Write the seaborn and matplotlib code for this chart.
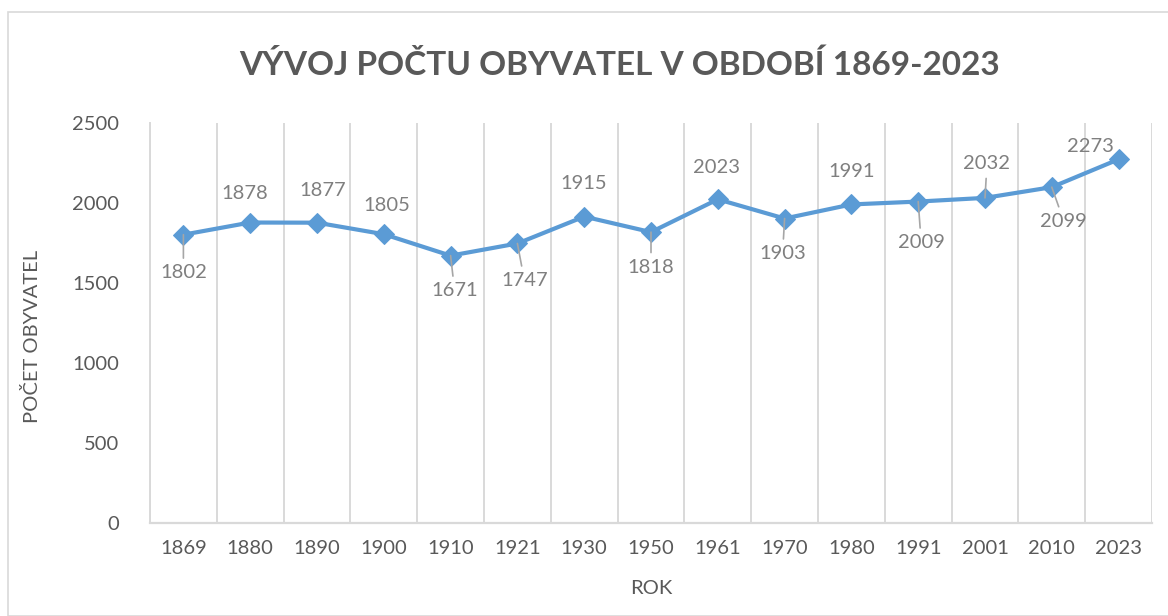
import matplotlib
matplotlib.use("Agg")
import matplotlib.pyplot as plt
import matplotlib.patches as mpatches
import numpy as np
import seaborn as sns

# data
years = ["1869", "1880", "1890", "1900", "1910", "1921", "1930", "1950",
         "1961", "1970", "1980", "1991", "2001", "2010", "2023"]
population = [1802, 1878, 1877, 1805, 1671, 1747, 1915, 1818,
              2023, 1903, 1991, 2009, 2032, 2099, 2273]
y_ticks = [0, 500, 1000, 1500, 2000, 2500]

# label placement (pixels from marker) and whether a leader line is drawn
label_offsets = [(0, -38), (-5, 29), (6, 32), (3, 29), (4, -35), (7, -37),
                 (-1, 33), (0, -35), (-1, 32), (-2, -35), (0, 33), (3, -41),
                 (2, 34), (12, -34), (-28, 13)]
leaders = [True, False, False, False, True, True, False, True, False, True,
           False, True, True, True, False]

sns.set_style("white")
plt.rcParams["font.family"] = ["Lato", "DejaVu Sans"]

LINE = "#5B9BD5"
GRID = "#D9D9D9"
TEXT = "#595959"
LABEL = "#7F7F7F"

fig = plt.figure(figsize=(11.68, 6.16), dpi=100)
ax = fig.add_axes([150 / 1168, 93 / 616, 1002 / 1168, 400 / 616])

# outer chart border
fig.patches.append(mpatches.Rectangle((8 / 1168, 0), 1.0, 604 / 616, transform=fig.transFigure,
                                      fill=False, edgecolor=GRID, linewidth=1.2))

x = np.arange(len(years))
sns.lineplot(x=x, y=population, ax=ax, color=LINE, linewidth=3.0,
             marker="D", markersize=10, markeredgecolor=LINE, markerfacecolor=LINE)

ax.set_xlim(-0.5, len(years) - 0.5)
ax.set_ylim(0, 2500)
ax.set_yticks(y_ticks)
ax.set_xticks(x)
ax.set_xticklabels(years)
ax.set_xticks(np.arange(-0.5, len(years)), minor=True)
ax.grid(which="minor", axis="x", color=GRID, linewidth=1.4)
ax.grid(which="major", visible=False)
ax.tick_params(which="both", length=0)
ax.tick_params(axis="y", labelsize=14.5, labelcolor=TEXT, pad=22)
ax.tick_params(axis="x", labelsize=14.5, labelcolor=TEXT, pad=12)

for side in ["top", "right"]:
    ax.spines[side].set_visible(False)
ax.spines["left"].set_color(GRID)
ax.spines["left"].set_linewidth(1.4)
ax.spines["bottom"].set_color(GRID)
ax.spines["bottom"].set_linewidth(1.6)

for xi, val, (dx, dy), lead in zip(x, population, label_offsets, leaders):
    props = dict(arrowstyle="-", color="#A6A6A6", linewidth=1.2,
                 shrinkA=2, shrinkB=0) if lead else None
    ax.annotate(str(val), xy=(xi, val), xytext=(dx, dy), textcoords="offset pixels",
                ha="center", va="center", fontsize=14.5, color=LABEL,
                arrowprops=props)

fig.text(620 / 1168, 1 - 65 / 616, "VÝVOJ POČTU OBYVATEL V OBDOBÍ 1869-2023",
         ha="center", va="center", fontsize=24, fontweight="bold", color=TEXT)
fig.text(32 / 1168, 1 - 336 / 616, "POČET OBYVATEL", rotation=90,
         ha="center", va="center", fontsize=14.5, color=TEXT)
fig.text(651 / 1168, 1 - 588 / 616, "ROK", ha="center", va="center",
         fontsize=14.5, color=TEXT)

fig.savefig("out.png", dpi=100)
